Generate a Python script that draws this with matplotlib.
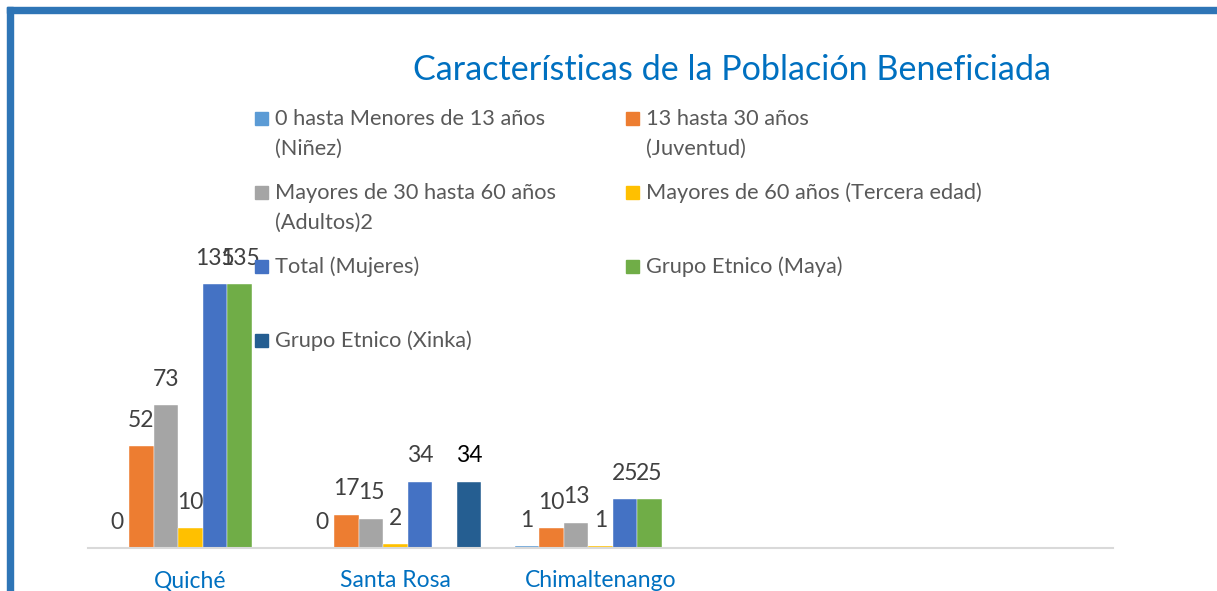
import numpy as np
import matplotlib.pyplot as plt
from matplotlib.patches import Rectangle

W, H = 1217, 591

# data
categories = ['Quiché', 'Santa Rosa', 'Chimaltenango', '', '']
series = ['0 hasta Menores de 13 años (Niñez)', '13 hasta 30 años (Juventud)',
          'Mayores de 30 hasta 60 años (Adultos)2', 'Mayores de 60 años (Tercera edad)',
          'Total (Mujeres)', 'Grupo Etnico (Maya)', 'Grupo Etnico (Xinka)']
ninez = [0, 0, 1, np.nan, np.nan]
juventud = [52, 17, 10, np.nan, np.nan]
adultos = [73, 15, 13, np.nan, np.nan]
tercera = [10, 2, 1, np.nan, np.nan]
mujeres = [135, 34, 25, np.nan, np.nan]
maya = [135, np.nan, 25, np.nan, np.nan]
xinka = [np.nan, 34, np.nan, np.nan, np.nan]
values = [ninez, juventud, adultos, tercera, mujeres, maya, xinka]
colors = ['#5B9BD5', '#ED7D31', '#A5A5A5', '#FFC000', '#4472C4', '#70AD47', '#255E91']
legend_lines = [['0 hasta Menores de 13 años', '(Niñez)'],
                ['13 hasta 30 años', '(Juventud)'],
                ['Mayores de 30 hasta 60 años', '(Adultos)2'],
                ['Mayores de 60 años (Tercera edad)'],
                ['Total (Mujeres)'],
                ['Grupo Etnico (Maya)'],
                ['Grupo Etnico (Xinka)']]

plt.rcParams['font.family'] = ['Lato', 'DejaVu Sans']

fig = plt.figure(figsize=(W / 100, H / 100), dpi=100)

def fx(x):
    return x / W

def fy(y):
    return 1 - y / H

# axes placed on pixel positions of the reference
ax = fig.add_axes([fx(88), fy(548), (1113 - 88) / W, 273.8 / H])
x = np.arange(len(categories))
w = 0.1195
for i, (vals, c) in enumerate(zip(values, colors)):
    bars = ax.bar(x + (i - 3) * w, vals, w, color=c, edgecolor='white', linewidth=0.3)
    labs = ['' if np.isnan(v) else f'{int(v)}' for v in vals]
    texts = ax.bar_label(bars, labels=labs, padding=11, fontsize=16.5, color='#404040')
    if i == 6:
        for t in texts:
            t.set_color('black')

ax.set_xlim(-0.5, len(categories) - 0.5)
ax.set_ylim(0, 140)
ax.set_yticks([])
ax.set_xticks(x)
ax.set_xticklabels(categories, fontsize=16.5, color='#0070C0')
ax.tick_params(axis='x', length=0, pad=16)
for s in ['top', 'right', 'left']:
    ax.spines[s].set_visible(False)
ax.spines['bottom'].set_color('#D9D9D9')
ax.spines['bottom'].set_linewidth(1.5)
ax.patch.set_alpha(0)

fig.text(fx(732), fy(80), 'Características de la Población Beneficiada',
         ha='center', va='baseline', fontsize=24.6, color='#0070C0')

# legend, two columns filled row by row
col_x = [255, 626]
row_y = [125, 199, 273, 347]
for k, lines in enumerate(legend_lines):
    cx = col_x[k % 2]
    by = row_y[k // 2]
    fig.patches.append(Rectangle((fx(cx), fy(by)), 13 / W, 13 / H,
                                 transform=fig.transFigure, color=colors[k]))
    for j, line in enumerate(lines):
        fig.text(fx(cx + 20), fy(by + 30 * j), line, ha='left', va='baseline',
                 fontsize=15.7, color='#595959')

# frame lines at top and left
fig.patches.append(Rectangle((fx(7), fy(591)), 6 / W, 584 / H,
                             transform=fig.transFigure, color='#2E75B6'))
fig.patches.append(Rectangle((fx(7), fy(13)), (W - 7) / W, 6 / H,
                             transform=fig.transFigure, color='#2E75B6'))

fig.savefig('out.png', dpi=100)
